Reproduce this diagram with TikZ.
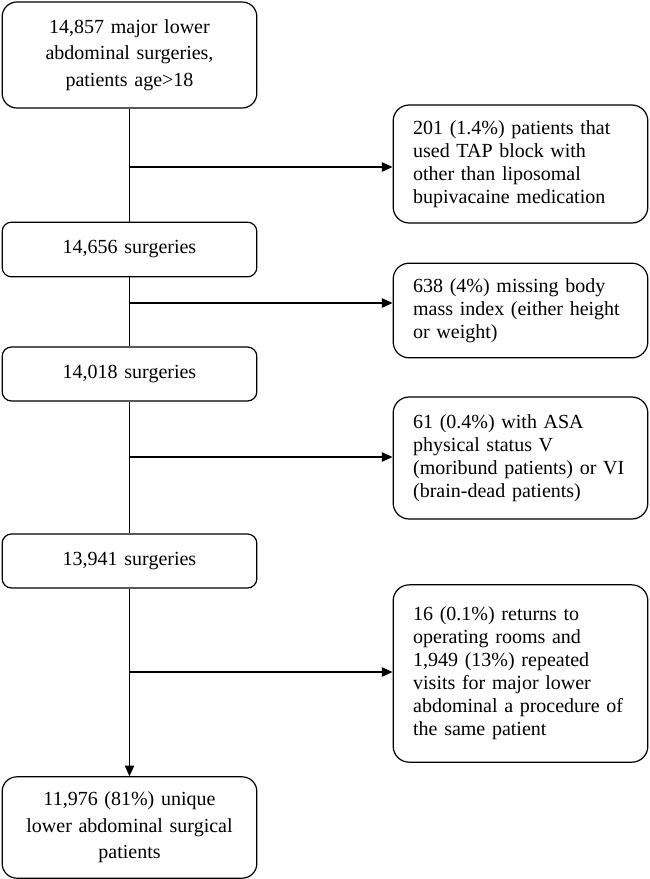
\documentclass[tikz,border=0pt]{standalone}
\usepackage{fontspec}
\setmainfont{Liberation Serif}
\usetikzlibrary{positioning, arrows.meta}

\tikzset{
    stage/.style={draw, line width=0.9pt, rounded corners=7pt, inner xsep=5pt,
        text width=181pt, align=center, font=\fontsize{15}{20}\selectfont},
    excl/.style={draw, line width=0.9pt, rounded corners=12pt, inner xsep=15pt,
        text width=161pt, align=left, font=\fontsize{15}{17.25}\selectfont},
    flow/.style={line width=0.8pt},
    flowarrow/.style={line width=0.8pt, -{Triangle[length=8pt, width=7pt]}}
}

\begin{document}
\begin{tikzpicture}[x=0.75pt, y=-0.75pt]
    \useasboundingbox (0,0) rectangle (650,879);

    % main column
    \node[stage, minimum height=79.5pt, rounded corners=11pt] (b1) at (129.5,55)
        {14,857 major lower\\abdominal surgeries,\\patients age>18};
    \node[stage, minimum height=41pt] (b2) at (129.5,249.5) {14,656 surgeries};
    \node[stage, minimum height=40.5pt] (b3) at (129.5,374) {14,018 surgeries};
    \node[stage, minimum height=40.5pt] (b4) at (129.5,561) {13,941 surgeries};
    \node[stage, minimum height=76pt, rounded corners=11pt] (b5) at (129.5,827.5)
        {11,976 (81\%) unique\\lower abdominal surgical\\patients};

    % exclusions
    \node[excl, minimum height=88.5pt] (x1) at (520.5,164)
        {201 (1.4\%) patients that\\used TAP block with\\other than liposomal\\bupivacaine medication};
    \node[excl, minimum height=71pt] (x2) at (520.5,310.5)
        {638 (4\%) missing body\\mass index (either height\\or weight)};
    \node[excl, minimum height=91.5pt] (x3) at (520.5,458)
        {61 (0.4\%) with ASA\\physical status V\\(moribund patients) or VI\\(brain-dead patients)};
    \node[excl, minimum height=133pt] (x4) at (520.5,673.5)
        {16 (0.1\%) returns to\\operating rooms and\\1,949 (13\%) repeated\\visits for major lower\\abdominal a procedure of\\the same patient};

    % branch points
    \coordinate (j1) at (130,167);
    \coordinate (j2) at (130,303);
    \coordinate (j3) at (130,457);
    \coordinate (j4) at (130,672);

    \draw[flow] (b1) -- (b2);
    \draw[flow] (b2) -- (b3);
    \draw[flow] (b3) -- (b4);
    \draw[flowarrow] (b4) -- (b5);

    \draw[flowarrow] (j1) -- (j1 -| x1.west);
    \draw[flowarrow] (j2) -- (j2 -| x2.west);
    \draw[flowarrow] (j3) -- (j3 -| x3.west);
    \draw[flowarrow] (j4) -- (j4 -| x4.west);
\end{tikzpicture}
\end{document}
